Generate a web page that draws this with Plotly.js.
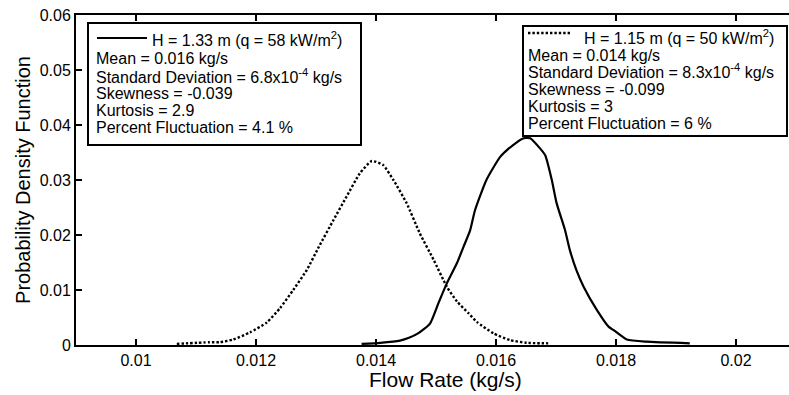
<!DOCTYPE html>
<html>
<head>
<meta charset="utf-8">
<script src="https://cdn.plot.ly/plotly-3.0.1.min.js"></script>
<style>html,body{margin:0;padding:0;background:#fff;}#chart{width:789px;height:395px;}</style>
</head>
<body>
<div id="chart"></div>
<script>
// H = 1.15 m (q = 50 kW/m2), dotted curve
const flowLow = [0.01068, 0.01122, 0.0114, 0.01162, 0.0119, 0.01218, 0.0124, 0.01262, 0.01285, 0.01305, 0.01329, 0.01351, 0.01373, 0.01393, 0.01412, 0.01429, 0.01451, 0.01473, 0.01496, 0.01518, 0.01535, 0.01554, 0.01568, 0.01596, 0.01623, 0.01651, 0.01687];
const pdfLow  = [0.0002, 0.0005, 0.0005, 0.0010, 0.0023, 0.0041, 0.0067, 0.0100, 0.0137, 0.0179, 0.0227, 0.0270, 0.0312, 0.03345, 0.0327, 0.0300, 0.0258, 0.0203, 0.0155, 0.0106, 0.0079, 0.0058, 0.0042, 0.0021, 0.0009, 0.0004, 0.0003];
// H = 1.33 m (q = 58 kW/m2), solid curve
const flowHigh = [0.01376, 0.01407, 0.0144, 0.01455, 0.0147, 0.0149, 0.01504, 0.01518, 0.01535, 0.01546, 0.01557, 0.01565, 0.01584, 0.01607, 0.01629, 0.01646, 0.01657, 0.01673, 0.01682, 0.01693, 0.01701, 0.01715, 0.01723, 0.01734, 0.01746, 0.01768, 0.01788, 0.01796, 0.01818, 0.01851, 0.01923];
const pdfHigh  = [0.0002, 0.0004, 0.0008, 0.0013, 0.0021, 0.0039, 0.0076, 0.0112, 0.0149, 0.0179, 0.0209, 0.0245, 0.0300, 0.0342, 0.0364, 0.0376, 0.0376, 0.0358, 0.0345, 0.0300, 0.0258, 0.0209, 0.0173, 0.0136, 0.0106, 0.0064, 0.0033, 0.0027, 0.0010, 0.0006, 0.0003];

const xTicks = [0.01, 0.012, 0.014, 0.016, 0.018, 0.02];
const xTickText = ['0.01', '0.012', '0.014', '0.016', '0.018', '0.02'];
const yTicks = [0, 0.01, 0.02, 0.03, 0.04, 0.05, 0.06];
const yTickText = ['0', '0.01', '0.02', '0.03', '0.04', '0.05', '0.06'];

const statsHigh = ['H = 1.33 m (q = 58 kW/m<sup>2</sup>)', 'Mean = 0.016 kg/s', 'Standard Deviation = 6.8x10<sup>-4</sup> kg/s', 'Skewness = -0.039', 'Kurtosis = 2.9', 'Percent Fluctuation = 4.1 %'];
const statsLow  = ['H = 1.15 m (q = 50 kW/m<sup>2</sup>)', 'Mean = 0.014 kg/s', 'Standard Deviation = 8.3x10<sup>-4</sup> kg/s', 'Skewness = -0.099', 'Kurtosis = 3', 'Percent Fluctuation = 6 %'];

const W = 789, H = 395, L = 76, T = 15, B = 50, R = 0;
const pw = W - L - R, ph = H - T - B;
const px = x => (x - L) / pw;
const py = y => (H - B - y) / ph;
const FONT = 'Liberation Sans, Arial, sans-serif';
const DOT = '2.4px,2px';

const traces = [
  {x: flowLow, y: pdfLow, type: 'scatter', mode: 'lines', line: {color: '#000', width: 2.4, dash: DOT, shape: 'spline', smoothing: 0.5}, showlegend: false, hoverinfo: 'skip'},
  {x: flowHigh, y: pdfHigh, type: 'scatter', mode: 'lines', line: {color: '#000', width: 2.2, shape: 'spline', smoothing: 0.5}, showlegend: false, hoverinfo: 'skip'}
];

const shapes = [
  {type: 'rect', xref: 'paper', yref: 'paper', x0: px(88), x1: px(361), y0: py(145), y1: py(23), line: {color: '#000', width: 2}, fillcolor: '#fff', layer: 'above'},
  {type: 'rect', xref: 'paper', yref: 'paper', x0: px(523), x1: px(787), y0: py(136), y1: py(26), line: {color: '#000', width: 2}, fillcolor: '#fff', layer: 'above'},
  {type: 'line', xref: 'paper', yref: 'paper', x0: px(97), x1: px(147), y0: py(38), y1: py(38), line: {color: '#000', width: 2}, layer: 'above'},
  {type: 'line', xref: 'paper', yref: 'paper', x0: px(528), x1: px(572), y0: py(33), y1: py(33), line: {color: '#000', width: 2.4, dash: DOT}, layer: 'above'}
];

const annotations = [];
// line centres (px); anchor at bottom so superscripts don't shift lines
const leftY = [41, 59, 77.5, 94, 110.5, 127.5];
const rightY = [39, 56, 73, 90, 106.7, 124];
const HALF = 9;
statsHigh.forEach((t, i) => {
  annotations.push({xref: 'paper', yref: 'paper', x: px(i === 0 ? 151 : 95), y: py(leftY[i] + HALF), text: t, showarrow: false, xanchor: 'left', yanchor: 'bottom', font: {family: FONT, size: 16, color: '#000'}, borderpad: 0});
});
statsLow.forEach((t, i) => {
  annotations.push({xref: 'paper', yref: 'paper', x: px(i === 0 ? 583 : 527), y: py(rightY[i] + HALF), text: t, showarrow: false, xanchor: 'left', yanchor: 'bottom', font: {family: FONT, size: 16, color: '#000'}, borderpad: 0});
});
annotations.push({xref: 'paper', yref: 'paper', x: px(445), y: py(380), text: 'Flow Rate (kg/s)', showarrow: false, xanchor: 'center', yanchor: 'middle', font: {family: FONT, size: 21, color: '#000'}});

const layout = {
  width: W, height: H,
  margin: {l: L, r: R, t: T, b: B, pad: 0},
  paper_bgcolor: '#fff', plot_bgcolor: '#fff',
  font: {family: FONT, size: 16, color: '#000'},
  xaxis: {
    range: [0.009, 0.009 + pw / 60000], tickvals: xTicks, ticktext: xTickText,
    ticks: 'inside', ticklen: 6, tickwidth: 2, tickcolor: '#000',
    showline: true, linewidth: 2, linecolor: '#000', mirror: 'ticks',
    showgrid: false, zeroline: false, tickfont: {size: 16, family: FONT}
  },
  yaxis: {
    range: [0, 0.06], tickvals: yTicks, ticktext: yTickText,
    ticks: 'inside', ticklen: 6, tickwidth: 2, tickcolor: '#000',
    showline: true, linewidth: 2, linecolor: '#000',
    showgrid: false, zeroline: false, tickfont: {size: 16, family: FONT},
    title: {text: 'Probability Density Function', font: {size: 20, family: FONT}, standoff: 4}
  },
  shapes: shapes,
  annotations: annotations
};

Plotly.newPlot('chart', traces, layout, {staticPlot: true, displayModeBar: false});
</script>
</body>
</html>
